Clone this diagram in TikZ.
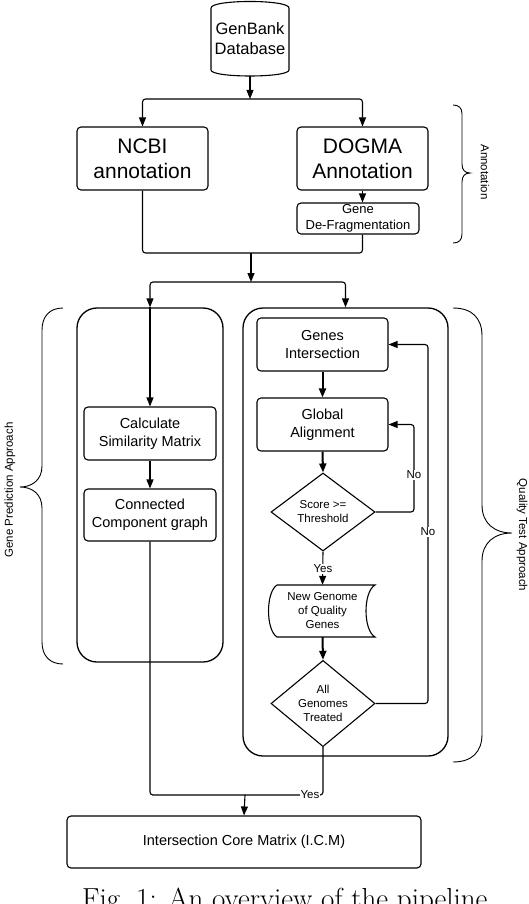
\documentclass[tikz,border=0pt]{standalone}
\usepackage{fontspec}
\newfontfamily\arialf{Liberation Sans}
\usetikzlibrary{arrows.meta,shapes.geometric}
\begin{document}
\begin{tikzpicture}[x=1pt,y=-1pt,
  box/.style={draw, rounded corners=4pt, line width=1.1pt, align=center, inner sep=0pt},
  cont/.style={draw, rounded corners=20pt, line width=1.3pt, inner sep=0pt},
  dia/.style={draw, diamond, line width=1.1pt, align=center, inner sep=0pt},
  plain/.style={inner sep=0pt, align=center},
  conn/.style={line width=1.1pt, rounded corners=3pt},
  arr/.style={conn, -{Triangle[length=9pt,width=7pt]}},
  tarr/.style={arr, line width=2pt},
  lab/.style={fill=white, inner sep=1pt, font=\arialf\fontsize{11.5}{13}\selectfont},
  brace/.style={line width=0.9pt},
  big/.style={font=\arialf\fontsize{21}{25}\selectfont},
  mid/.style={font=\arialf\fontsize{14.5}{18}\selectfont},
  small/.style={font=\arialf\fontsize{11.5}{14}\selectfont},
]
\useasboundingbox (0,0) rectangle (528,904);
\clip (0,0) rectangle (528,904);

% database cylinder
\node[plain, font=\arialf\fontsize{16.5}{20}\selectfont, minimum width=78pt, minimum height=75pt] (db) at (250,38.5) {GenBank\\Database};
\draw[line width=1.1pt] (211,8) -- (211,70) .. controls (211,78) and (289,78) .. (289,70) -- (289,8) .. controls (289,-0.7) and (211,-0.7) .. (211,8) -- cycle;

% annotation
\node[box, big, minimum width=131pt, minimum height=63pt] (ncbi) at (142.5,158.5) {NCBI\\annotation};
\node[box, big, minimum width=131pt, minimum height=63pt] (dogma) at (362.5,158.5) {DOGMA\\Annotation};
\node[box, font=\arialf\fontsize{13}{16}\selectfont, minimum width=122pt, minimum height=31pt] (gene) at (358,218.5) {Gene\\De-Fragmentation};

% containers
\node[cont, minimum width=146pt, minimum height=354pt] (lc) at (150,485) {};
\node[cont, minimum width=205pt, minimum height=448pt] (rc) at (345.5,532) {};

% left column
\node[box, mid, minimum width=132pt, minimum height=53pt] (calc) at (150,433.5) {Calculate\\Similarity Matrix};
\node[box, mid, minimum width=132pt, minimum height=52pt] (cc) at (150,515) {Connected\\Component graph};

% right column
\node[box, mid, minimum width=131pt, minimum height=53pt] (gi) at (322.5,344.5) {Genes\\Intersection};
\node[box, mid, minimum width=131pt, minimum height=53pt] (ga) at (322.5,424.5) {Global\\Alignment};
\node[dia, small, minimum width=104pt, minimum height=78pt] (sd) at (323,512) {Score >=\\Threshold};
\node[plain, small, minimum width=105pt, minimum height=52pt] (ng) at (322.5,611) {New Genome\\of Quality\\Genes};
\draw[line width=1.1pt] (277,585) -- (375,585) .. controls (363,592) and (363,630) .. (375,637) -- (277,637) .. controls (265.7,630) and (265.7,592) .. (277,585) -- cycle;
\node[dia, small, minimum width=104pt, minimum height=77pt] (ag) at (323,703.5) {All\\Genomes\\Treated};

% bottom
\node[box, mid, minimum width=354pt, minimum height=52pt] (icm) at (244,842) {Intersection Core Matrix (I.C.M)};

% connectors
\coordinate (j1) at (250,99);
\coordinate (j2) at (251,253);
\coordinate (j3) at (251,282);
\coordinate (j4) at (245,795);
\coordinate (r1) at (414,0);
\coordinate (r2) at (428,0);

\draw[arr] (db.south) -- (j1);
\draw[arr] (j1) -| (ncbi.north);
\draw[arr] (j1) -| (dogma.north);
\draw[arr] (dogma.south) -- (dogma.south |- gene.north);
\draw[conn] (ncbi.south) |- (j2);
\draw[conn] (dogma.south |- gene.south) |- (j2);
\draw[arr] (j2) -- (j3);
\draw[arr] (j3) -| (lc.north);
\draw[arr] (j3) -| (rc.north);
\draw[arr] (lc.north) -- (calc.north);
\draw[arr] (calc.south) -- (cc.north);

\draw[tarr] (gi.south) -- (ga.north);
\draw[tarr] (ga.south) -- (sd.north);
\draw[arr] (sd.east) -| (r1 |- ga.east) -- (ga.east);
\node[lab] at (414,475) {No};
\draw[arr] (sd.south) -- (ng.north);
\node[lab] at (323,569) {Yes};
\draw[tarr] (ng.south) -- (ag.north);
\draw[arr] (ag.east) -| (r2 |- gi.east) -- (gi.east);
\node[lab] at (428,532) {No};

\draw[conn] (ag.south) |- (j4);
\draw[conn] (cc.south) |- (j4);
\draw[arr] (j4) -- (icm.north);
\node[lab] at (310,795) {Yes};

% braces
\draw[brace] (453,105) .. controls (459,105) and (462,108) .. (462,114) -- (462,164) .. controls (462,170) and (465,173) .. (470,173) .. controls (465,173) and (462,176) .. (462,182) -- (462,234) .. controls (462,240) and (459,243) .. (453,243);
\node[small, rotate=-90] (t1) at (485,172) {Annotation};

\draw[brace] (63,308) .. controls (50,308) and (42,316) .. (42,330) -- (42,466) .. controls (42,480) and (32,487) .. (20,487) .. controls (32,487) and (42,494) .. (42,508) -- (42,642) .. controls (42,656) and (50,664) .. (63,664);
\node[small, rotate=90] (t2) at (10,490) {Gene Prediction Approach};

\draw[brace] (453,308) .. controls (472,308) and (482,318) .. (482,336) -- (482,505) .. controls (482,523) and (494,533) .. (512,533) .. controls (494,533) and (482,543) .. (482,561) -- (482,734) .. controls (482,752) and (472,762) .. (453,762);
\node[small, rotate=-90] (t3) at (522,535) {Quality Test Approach};

% caption
\node[anchor=base west, inner sep=0pt, font=\fontsize{29}{32}\selectfont] (cap) at (82,908) {Fig.~1: An overview of the pipeline.};
\end{tikzpicture}
\end{document}
